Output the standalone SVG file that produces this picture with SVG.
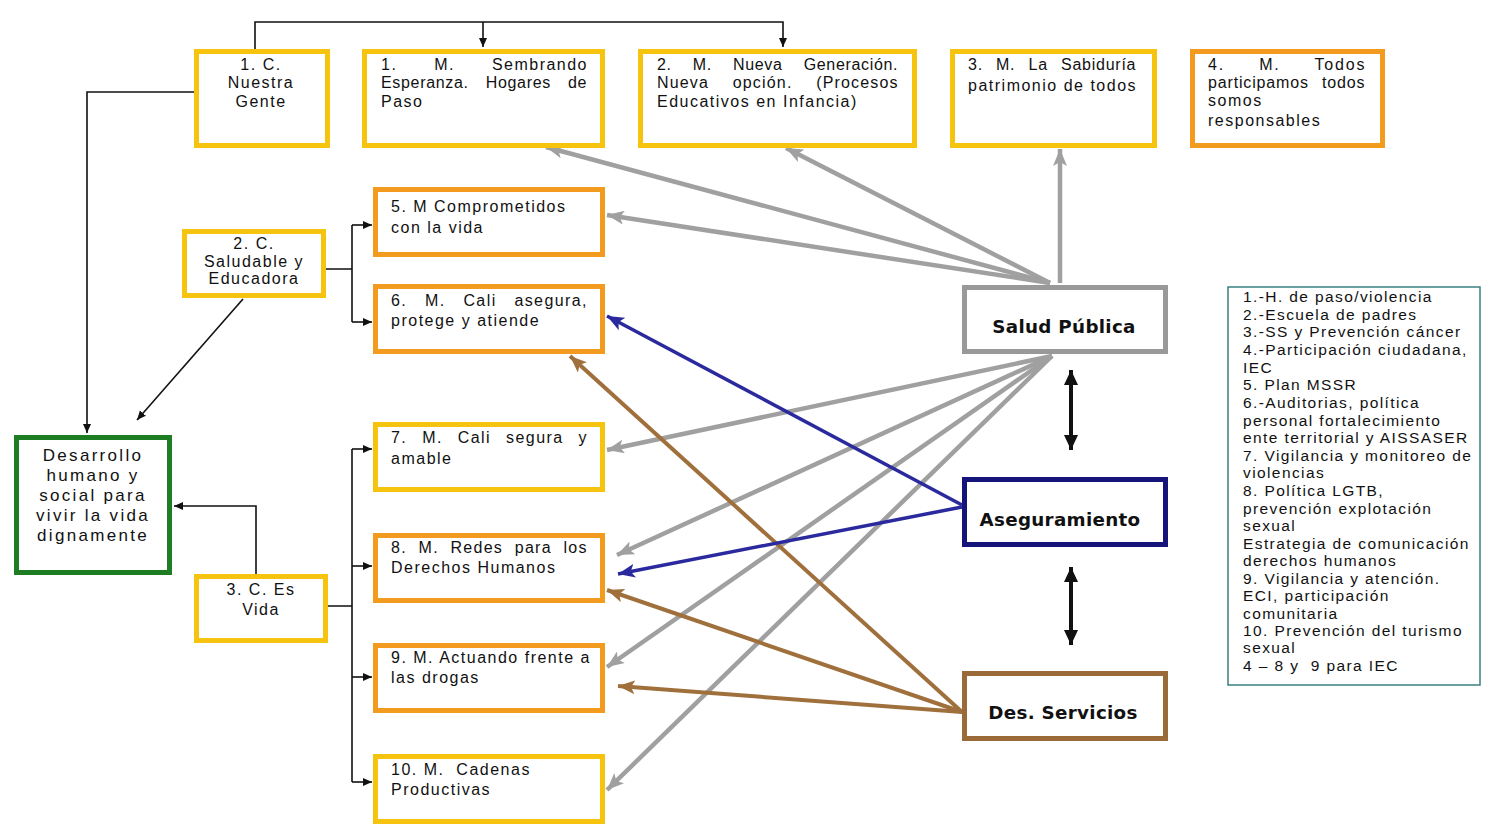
<svg xmlns="http://www.w3.org/2000/svg" width="1496" height="828" viewBox="0 0 1496 828">
<style>
.bx{fill:#fff;stroke-width:5}
.y{stroke:#F6C40F}
.o{stroke:#F29B1E}
.g{stroke:#1E7D22}
.sp{stroke:#999}
.as{stroke:#14147A}
.ds{stroke:#9A6A38}
text{font-family:"Liberation Sans",Arial,sans-serif;font-size:16px;fill:#111;letter-spacing:1.5px}
.c{text-anchor:middle}
.e{text-anchor:end}
.dz{font-size:17px;letter-spacing:2.3px}
.b{font-family:"DejaVu Sans",Verdana,sans-serif;font-weight:bold;font-size:18.3px;letter-spacing:0.3px;text-anchor:middle}
.lg{font-size:15.5px;letter-spacing:1.4px}
.thin{fill:none;stroke:#111;stroke-width:1.6}
.gr{fill:none;stroke:#A0A0A0;stroke-width:4.5}
.bl{fill:none;stroke:#2A2A9E;stroke-width:3.5}
.br{fill:none;stroke:#A0703C;stroke-width:4}
.dbl{fill:none;stroke:#111;stroke-width:4}
</style>
<defs>
<marker id="mk" markerUnits="userSpaceOnUse" markerWidth="10" markerHeight="10" refX="9" refY="5" orient="auto"><path d="M0,1 L9,5 L0,9 Z" fill="#111"/></marker>
<marker id="mg" markerUnits="userSpaceOnUse" markerWidth="18" markerHeight="14" refX="17" refY="7" orient="auto"><path d="M0,0 L17,7 L0,14 L4,7 Z" fill="#A0A0A0"/></marker>
<marker id="mb" markerUnits="userSpaceOnUse" markerWidth="18" markerHeight="14" refX="17" refY="7" orient="auto"><path d="M0,0 L17,7 L0,14 L4,7 Z" fill="#2A2A9E"/></marker>
<marker id="mr" markerUnits="userSpaceOnUse" markerWidth="18" markerHeight="14" refX="17" refY="7" orient="auto"><path d="M0,0 L17,7 L0,14 L4,7 Z" fill="#A0703C"/></marker>
<marker id="md" markerUnits="userSpaceOnUse" markerWidth="16" markerHeight="16" refX="15" refY="8" orient="auto-start-reverse"><path d="M0,1 L15,8 L0,15 Z" fill="#111"/></marker>
</defs>

<g id="connectors">
<path class="thin" d="M255,49 V22 H783 V47" marker-end="url(#mk)"/>
<path class="thin" d="M483,22 V47" marker-end="url(#mk)"/>
<path class="thin" d="M194,92 H87 V433" marker-end="url(#mk)"/>
<path class="thin" d="M243,299 L137,420" marker-end="url(#mk)"/>
<path class="thin" d="M326,269 H352 M352,225 V322"/>
<path class="thin" d="M352,225 H372" marker-end="url(#mk)"/>
<path class="thin" d="M352,322 H372" marker-end="url(#mk)"/>
<path class="thin" d="M256,574 V506 H174" marker-end="url(#mk)"/>
<path class="thin" d="M328,606 H352 M352,449 V782"/>
<path class="thin" d="M352,449 H372" marker-end="url(#mk)"/>
<path class="thin" d="M352,566 H372" marker-end="url(#mk)"/>
<path class="thin" d="M352,677 H372" marker-end="url(#mk)"/>
<path class="thin" d="M352,782 H372" marker-end="url(#mk)"/>

<path class="gr" d="M1050,283 L546,147" marker-end="url(#mg)"/>
<path class="gr" d="M1050,283 L786,148" marker-end="url(#mg)"/>
<path class="gr" d="M1060,283 L1060,149" marker-end="url(#mg)"/>
<path class="gr" d="M1050,283 L607,215" marker-end="url(#mg)"/>
<path class="gr" d="M1052,356 L607,450" marker-end="url(#mg)"/>
<path class="gr" d="M1052,356 L617,555" marker-end="url(#mg)"/>
<path class="gr" d="M1052,356 L607,667" marker-end="url(#mg)"/>
<path class="gr" d="M1052,356 L607,790" marker-end="url(#mg)"/>

<path class="br" d="M962,712 L570,356" marker-end="url(#mr)"/>
<path class="br" d="M962,712 L607,590" marker-end="url(#mr)"/>
<path class="br" d="M962,712 L618,686" marker-end="url(#mr)"/>

<path class="bl" d="M962,505 L607,316" marker-end="url(#mb)"/>
<path class="bl" d="M962,507 L618,574" marker-end="url(#mb)"/>

<path class="dbl" d="M1071,370 V450" marker-start="url(#md)" marker-end="url(#md)"/>
<path class="dbl" d="M1071,567 V645" marker-start="url(#md)" marker-end="url(#md)"/>
</g>

<g id="c1">
<rect class="bx y" x="196.5" y="51.5" width="131" height="94"/>
<text class="c" x="261" y="70">1. C.</text>
<text class="c" x="261" y="88">Nuestra</text>
<text class="c" x="261" y="107">Gente</text>
</g>
<g id="m1">
<rect class="bx y" x="364.5" y="51.5" width="238" height="94"/>
<text x="381" y="70" textLength="207" lengthAdjust="spacing" style="word-spacing:31px">1. M. Sembrando</text>
<text x="381" y="88" textLength="207" lengthAdjust="spacing" style="word-spacing:12px">Esperanza. Hogares de</text>
<text x="381" y="107">Paso</text>
</g>
<g id="m2">
<rect class="bx y" x="640.5" y="51.5" width="274" height="94"/>
<text x="657" y="70" textLength="242" lengthAdjust="spacing" style="word-spacing:16px">2. M. Nueva Generación.</text>
<text x="657" y="88" textLength="242" lengthAdjust="spacing" style="word-spacing:18px">Nueva opción. (Procesos</text>
<text x="657" y="107">Educativos en Infancia)</text>
</g>
<g id="m3">
<rect class="bx y" x="952.5" y="51.5" width="202" height="94"/>
<text x="968" y="70" textLength="169" lengthAdjust="spacing" style="word-spacing:8px">3. M. La Sabiduría</text>
<text x="968" y="91">patrimonio de todos</text>
</g>
<g id="m4">
<rect class="bx o" x="1192.5" y="51.5" width="190" height="94"/>
<text x="1208" y="70" textLength="158" lengthAdjust="spacing" style="word-spacing:28px">4. M. Todos</text>
<text x="1208" y="88" textLength="158" lengthAdjust="spacing" style="word-spacing:8px">participamos todos</text>
<text x="1208" y="106">somos</text>
<text x="1208" y="126">responsables</text>
</g>
<g id="m5">
<rect class="bx o" x="375.5" y="189.5" width="227" height="65"/>
<text x="391" y="212">5. M Comprometidos</text>
<text x="391" y="233">con la vida</text>
</g>
<g id="c2">
<rect class="bx y" x="184.5" y="231.5" width="139" height="64"/>
<text class="c" x="254" y="249">2. C.</text>
<text class="c" x="254" y="267">Saludable y</text>
<text class="c" x="254" y="284">Educadora</text>
</g>
<g id="m6">
<rect class="bx o" x="375.5" y="286.5" width="227" height="65"/>
<text x="391" y="306" textLength="197" lengthAdjust="spacing" style="word-spacing:12px">6. M. Cali asegura,</text>
<text x="391" y="326">protege y atiende</text>
</g>
<g id="des">
<rect class="bx g" x="16.5" y="437.5" width="153" height="135"/>
<text class="c dz" x="93" y="461">Desarrollo</text>
<text class="c dz" x="93" y="481">humano y</text>
<text class="c dz" x="93" y="501">social para</text>
<text class="c dz" x="93" y="521">vivir la vida</text>
<text class="c dz" x="93" y="541">dignamente</text>
</g>
<g id="m7">
<rect class="bx y" x="375.5" y="424.5" width="227" height="65"/>
<text x="391" y="443" textLength="197" lengthAdjust="spacing" style="word-spacing:9px">7. M. Cali segura y</text>
<text x="391" y="464">amable</text>
</g>
<g id="m8">
<rect class="bx o" x="375.5" y="535.5" width="227" height="65"/>
<text x="391" y="553" textLength="197" lengthAdjust="spacing" style="word-spacing:6px">8. M. Redes para los</text>
<text x="391" y="573">Derechos Humanos</text>
</g>
<g id="c3">
<rect class="bx y" x="196.5" y="576.5" width="129" height="64"/>
<text class="c" x="261" y="595">3. C. Es</text>
<text class="c" x="261" y="615">Vida</text>
</g>
<g id="m9">
<rect class="bx o" x="375.5" y="645.5" width="227" height="65"/>
<text x="391" y="663">9. M. Actuando frente a</text>
<text x="391" y="683">las drogas</text>
</g>
<g id="m10">
<rect class="bx y" x="375.5" y="756.5" width="227" height="65"/>
<text x="391" y="775" xml:space="preserve">10. M.  Cadenas</text>
<text x="391" y="795">Productivas</text>
</g>
<g id="salud">
<rect class="bx sp" x="964.5" y="287.5" width="201" height="64"/>
<text class="b" x="1064" y="333">Salud Pública</text>
</g>
<g id="aseg">
<rect class="bx as" x="964.5" y="479.5" width="201" height="65"/>
<text class="b" x="1060" y="526">Aseguramiento</text>
</g>
<g id="serv">
<rect class="bx ds" x="964.5" y="673.5" width="201" height="65"/>
<text class="b" x="1063" y="719">Des. Servicios</text>
</g>
<g id="legend">
<rect x="1228" y="287" width="252" height="398" fill="#fff" stroke="#3A8080" stroke-width="1.5"/>
<text class="lg" x="1243" y="302">1.-H. de paso/violencia</text>
<text class="lg" x="1243" y="320">2.-Escuela de padres</text>
<text class="lg" x="1243" y="337">3.-SS y Prevención cáncer</text>
<text class="lg" x="1243" y="355">4.-Participación ciudadana,</text>
<text class="lg" x="1243" y="373">IEC</text>
<text class="lg" x="1243" y="390">5. Plan MSSR</text>
<text class="lg" x="1243" y="408">6.-Auditorias, política</text>
<text class="lg" x="1243" y="426">personal fortalecimiento</text>
<text class="lg" x="1243" y="443">ente territorial y AISSASER</text>
<text class="lg" x="1243" y="461">7. Vigilancia y monitoreo de</text>
<text class="lg" x="1243" y="478">violencias</text>
<text class="lg" x="1243" y="496">8. Política LGTB,</text>
<text class="lg" x="1243" y="514">prevención explotación</text>
<text class="lg" x="1243" y="531">sexual</text>
<text class="lg" x="1243" y="549">Estrategia de comunicación</text>
<text class="lg" x="1243" y="566">derechos humanos</text>
<text class="lg" x="1243" y="584">9. Vigilancia y atención.</text>
<text class="lg" x="1243" y="601">ECI, participación</text>
<text class="lg" x="1243" y="619">comunitaria</text>
<text class="lg" x="1243" y="636">10. Prevención del turismo</text>
<text class="lg" x="1243" y="653">sexual</text>
<text class="lg" x="1243" y="671" xml:space="preserve">4 – 8 y  9 para IEC</text>
</g>
</svg>
